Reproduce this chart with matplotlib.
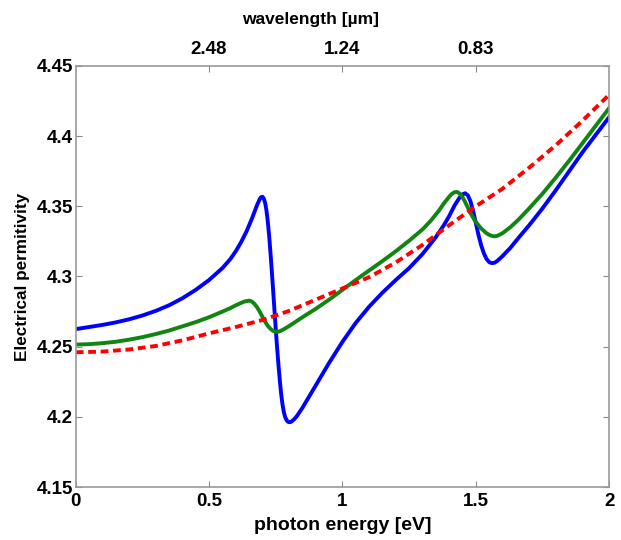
import matplotlib
matplotlib.use("Agg")
import matplotlib.pyplot as plt

plt.rcParams['font.family'] = ['Liberation Sans', 'DejaVu Sans']
plt.rcParams['font.weight'] = 'bold'

# photon energy [eV] and permittivity
e_blue = [0, 0.05, 0.1, 0.15, 0.2, 0.25, 0.3, 0.35, 0.4, 0.45, 0.5, 0.55, 0.58,
          0.6, 0.62, 0.64, 0.66, 0.67, 0.68, 0.69, 0.695, 0.70, 0.705, 0.71,
          0.715, 0.72, 0.725, 0.73, 0.735, 0.74, 0.745, 0.75, 0.755, 0.76,
          0.765, 0.77, 0.775, 0.78, 0.785, 0.79, 0.795, 0.80, 0.805, 0.81,
          0.82, 0.83, 0.85, 0.875, 0.9, 0.95, 1.0, 1.05, 1.1, 1.15, 1.2, 1.25,
          1.3, 1.35, 1.38, 1.4, 1.42, 1.44, 1.45, 1.46, 1.47, 1.48, 1.49, 1.5,
          1.51, 1.52, 1.53, 1.54, 1.55, 1.56, 1.57, 1.58, 1.6, 1.63, 1.66, 1.7,
          1.75, 1.8, 1.85, 1.9, 1.95, 2.0]
eps_blue = [4.2625, 4.264, 4.2655, 4.2673, 4.2695, 4.2722, 4.2755, 4.2795,
            4.2845, 4.2905, 4.2975, 4.306, 4.3125, 4.318, 4.3245, 4.332, 4.341,
            4.346, 4.351, 4.3552, 4.3565, 4.3568, 4.3555, 4.3525, 4.347, 4.339,
            4.329, 4.317, 4.304, 4.290, 4.276, 4.262, 4.249, 4.237, 4.226,
            4.2165, 4.209, 4.2035, 4.200, 4.1978, 4.1966, 4.1962, 4.1963,
            4.1968, 4.1985, 4.2008, 4.2065, 4.2145, 4.2225, 4.2385, 4.2535,
            4.267, 4.2785, 4.2885, 4.2975, 4.306, 4.316, 4.328, 4.3365, 4.343,
            4.3505, 4.3565, 4.3585, 4.3593, 4.3578, 4.3535, 4.3465, 4.338,
            4.3295, 4.3222, 4.3165, 4.3125, 4.3102, 4.3095, 4.3098, 4.311,
            4.3145, 4.3205, 4.3275, 4.3365, 4.3485, 4.3615, 4.375, 4.3885,
            4.401, 4.4135]

e_green = [0, 0.05, 0.1, 0.15, 0.2, 0.25, 0.3, 0.35, 0.4, 0.45, 0.5, 0.55, 0.58,
           0.6, 0.62, 0.635, 0.65, 0.66, 0.67, 0.68, 0.69, 0.70, 0.71, 0.72,
           0.73, 0.74, 0.75, 0.76, 0.77, 0.79, 0.82, 0.85, 0.9, 0.95, 1.0, 1.05,
           1.1, 1.15, 1.2, 1.25, 1.3, 1.33, 1.36, 1.38, 1.4, 1.41, 1.42, 1.43,
           1.44, 1.45, 1.46, 1.47, 1.48, 1.49, 1.5, 1.52, 1.54, 1.55, 1.56, 1.57,
           1.58, 1.6, 1.63, 1.66, 1.7, 1.75, 1.8, 1.85, 1.9, 1.95, 2.0]
eps_green = [4.2515, 4.2518, 4.2525, 4.2535, 4.255, 4.2568, 4.259, 4.2615,
             4.2645, 4.2675, 4.271, 4.275, 4.2775, 4.2795, 4.2812, 4.2823,
             4.2828, 4.2822, 4.2805, 4.278, 4.2748, 4.2712, 4.2678, 4.2648,
             4.2627, 4.2612, 4.2606, 4.2607, 4.2614, 4.2635, 4.2672, 4.271,
             4.277, 4.2835, 4.2905, 4.2975, 4.3043, 4.311, 4.318, 4.3255,
             4.3335, 4.3395, 4.3465, 4.352, 4.3568, 4.3588, 4.360, 4.3602,
             4.359, 4.3565, 4.353, 4.349, 4.3452, 4.3418, 4.3388, 4.3342,
             4.3308, 4.3297, 4.3289, 4.3286, 4.3289, 4.3308, 4.3352, 4.3405,
             4.3485, 4.359, 4.3705, 4.3825, 4.395, 4.4075, 4.420]

e_red = [0, 0.1, 0.2, 0.3, 0.4, 0.5, 0.6, 0.7, 0.8, 0.9, 1.0, 1.1, 1.2, 1.3,
         1.4, 1.5, 1.6, 1.7, 1.8, 1.9, 2.0]
eps_red = [4.246, 4.2465, 4.248, 4.2505, 4.2545, 4.2595, 4.264, 4.269, 4.2755,
           4.2835, 4.2915, 4.2995, 4.310, 4.3225, 4.3365, 4.350, 4.3625, 4.3775,
           4.3935, 4.411, 4.4295]

x_ticks = [0, 0.5, 1, 1.5, 2]
x_ticklabels = ['0', '0.5', '1', '1.5', '2']
y_ticks = [4.15, 4.2, 4.25, 4.3, 4.35, 4.4, 4.45]
y_ticklabels = ['4.15', '4.2', '4.25', '4.3', '4.35', '4.4', '4.45']
top_ticks = [0.5, 1, 1.5]
top_ticklabels = ['2.48', '1.24', '0.83']

fig = plt.figure(figsize=(6.21, 5.40), dpi=100)
ax = fig.add_axes([0.122, 0.098, 0.859, 0.78])

ax.plot(e_blue, eps_blue, color='#0000ff', lw=2.8)
ax.plot(e_green, eps_green, color='#118511', lw=2.8)
ax.plot(e_red, eps_red, color='#ff0000', lw=2.8, linestyle=(0, (2, 1.2)))

ax.set_xlim(0, 2)
ax.set_ylim(4.15, 4.45)
ax.set_xticks(x_ticks)
ax.set_xticklabels(x_ticklabels)
ax.set_yticks(y_ticks)
ax.set_yticklabels(y_ticklabels)
ax.tick_params(direction='in', length=4, width=0.8, color='#888888',
               labelsize=13.5, right=True)
ax.tick_params(axis='x', pad=4)
ax.tick_params(axis='y', pad=2)
for s in ax.spines.values():
    s.set_color('#999999')
    s.set_linewidth(1.2)

ax.set_xlabel('photon energy [eV]', fontsize=14, fontweight='bold', labelpad=5)
ax.set_ylabel('Electrical permitivity', fontsize=12.3, fontweight='bold', labelpad=5)

top = ax.twiny()
top.set_xlim(ax.get_xlim())
top.set_xticks(top_ticks)
top.set_xticklabels(top_ticklabels)
top.tick_params(direction='in', length=4, width=0.8, color='#888888',
                labelsize=13.5, pad=6)
top.set_xlabel('wavelength [\u00b5m]', fontsize=12.5, fontweight='bold')
top.xaxis.set_label_coords(0.44, 1.10)
for s in top.spines.values():
    s.set_visible(False)

fig.savefig('out.png', dpi=100)
